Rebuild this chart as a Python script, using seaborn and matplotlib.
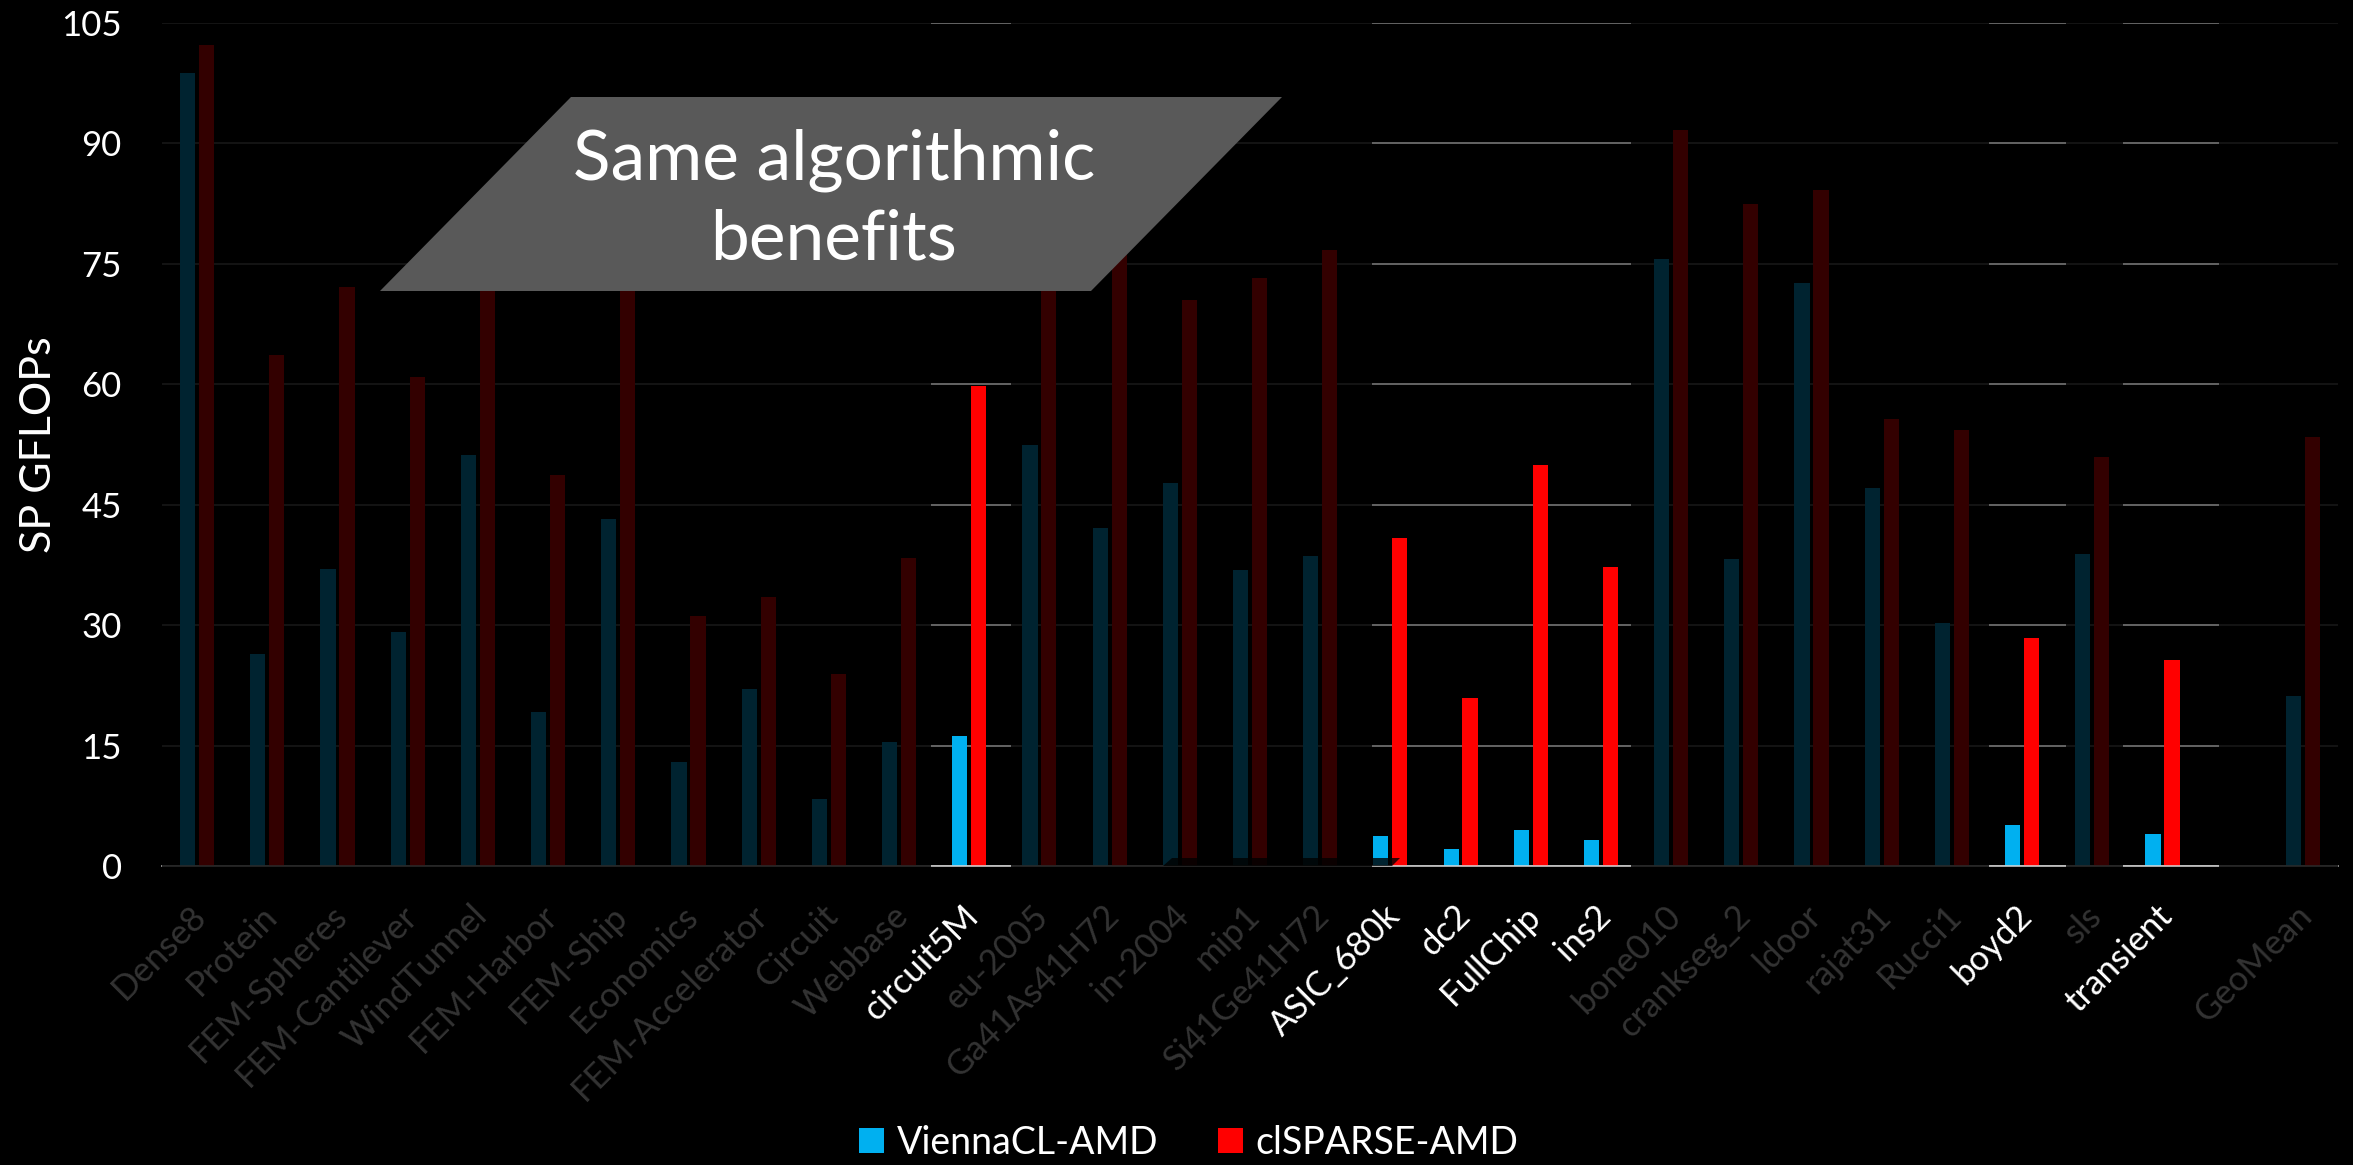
import matplotlib
matplotlib.use("Agg")
import matplotlib.pyplot as plt
from matplotlib.patches import Polygon, Rectangle
from matplotlib.transforms import blended_transform_factory, ScaledTranslation
import pandas as pd
import seaborn as sns

# ---------------------------------------------------------------- data
benchmarks = [
    "Dense8", "Protein", "FEM-Spheres", "FEM-Cantilever", "WindTunnel",
    "FEM-Harbor", "FEM-Ship", "Economics", "FEM-Accelerator", "Circuit",
    "Webbase", "circuit5M", "eu-2005", "Ga41As41H72", "in-2004", "mip1",
    "Si41Ge41H72", "ASIC_680k", "dc2", "FullChip", "ins2", "bone010",
    "crankseg_2", "ldoor", "rajat31", "Rucci1", "boyd2", "sls", "transient",
    "GeoMean",
]
viennacl_amd = [
    98.8, 26.4, 37.0, 29.2, 51.2, 19.2, 43.2, 13.0, 22.0, 8.3,
    15.5, 16.2, 52.4, 42.1, 47.7, 36.9, 38.6, 3.7, 2.1, 4.5,
    3.2, 75.6, 38.3, 72.6, 47.1, 30.3, 5.1, 38.8, 4.0, 21.2,
]
clsparse_amd = [
    102.3, 63.6, 72.1, 60.9, 78.0, 48.7, 76.0, 31.1, 33.5, 23.9,
    38.4, 59.8, 74.0, 76.4, 70.5, 73.2, 76.7, 40.9, 20.9, 49.9,
    37.3, 91.7, 82.4, 84.2, 55.7, 54.3, 28.4, 50.9, 25.7, 53.4,
]
series_names = ["ViennaCL-AMD", "clSPARSE-AMD"]
highlighted = ["circuit5M", "ASIC_680k", "dc2", "FullChip", "ins2", "boyd2", "transient"]
y_ticks = [0, 15, 30, 45, 60, 75, 90, 105]
y_title = "SP GFLOPs"
callout_text = "Same algorithmic\nbenefits"

# GeoMean is set one empty slot apart from the matrices
slot_order = benchmarks[:-1] + [" "] + benchmarks[-1:]

df = pd.DataFrame({
    "benchmark": benchmarks * 2,
    "gflops": viennacl_amd + clsparse_amd,
    "library": [series_names[0]] * len(benchmarks) + [series_names[1]] * len(benchmarks),
})

# ---------------------------------------------------------------- style
sns.set_theme(style="dark")
plt.rcParams["font.family"] = ["Lato", "DejaVu Sans"]
plt.rcParams["text.color"] = "white"

W, H = 2353, 1165
fig = plt.figure(figsize=(W / 100, H / 100), dpi=100, facecolor="black")


def fx(px):
    return px / W


def fy(py):
    return 1 - py / H


ax = fig.add_axes([fx(162), fy(866), fx(2338 - 162), (866 - 23) / H])
ax.set_facecolor("black")

sns.barplot(
    data=df, x="benchmark", y="gflops", hue="library",
    order=slot_order, hue_order=series_names,
    palette=["#00B0F0", "#FF0000"], saturation=1,
    width=0.54, gap=0.2, errorbar=None, ax=ax, zorder=2,
    linewidth=0, edgecolor="none",
)

ax.set_xlim(-0.5, len(slot_order) - 0.5)
ax.set_ylim(0, 105)
ax.set_yticks(y_ticks)
ax.set_yticklabels([str(t) for t in y_ticks])
ax.yaxis.grid(True, color="#7F7F7F", linewidth=1.1)
ax.xaxis.grid(False)
ax.set_axisbelow(True)
for side in ("left", "right", "top"):
    ax.spines[side].set_visible(False)
ax.spines["bottom"].set_color("#D9D9D9")
ax.spines["bottom"].set_linewidth(1.1)
ax.spines["bottom"].set_zorder(3)

ax.tick_params(axis="y", length=0, pad=29, labelsize=25, labelcolor="white")
ax.tick_params(axis="x", length=0, pad=24, labelsize=25)
ax.set_xticks(range(len(slot_order)))
ax.set_xticklabels(slot_order, rotation=45, ha="right", va="top",
                   rotation_mode="anchor")
nudge = ScaledTranslation(-7 / 100, 0, fig.dpi_scale_trans)
for lbl in ax.get_xticklabels():
    lbl.set_color("white" if lbl.get_text() in highlighted else "#333333")
    lbl.set_transform(lbl.get_transform() + nudge)

ax.set_xlabel("")
ax.set_ylabel(y_title, color="white", fontsize=31)
ax.yaxis.set_label_coords(-0.048, 0.50)

# dimming veil over everything but the highlighted columns
lit_spans = [(10.46, 11.59), (16.74, 20.43), (25.53, 26.63), (27.44, 28.81)]
edges = [-0.5]
for lo, hi in lit_spans:
    edges += [lo, hi]
edges.append(len(slot_order) - 0.5)
veil_tf = blended_transform_factory(ax.transData, ax.transAxes)
for x0, x1 in zip(edges[0::2], edges[1::2]):
    ax.add_patch(Rectangle((x0, -0.006), x1 - x0, 1.012, transform=veil_tf,
                           facecolor="black", edgecolor="none", alpha=0.8,
                           zorder=5, clip_on=False))

# legend below the category labels
handles, labels = ax.get_legend_handles_labels()
ax.legend(handles, labels, loc="center", ncol=2, frameon=False,
          bbox_to_anchor=(fx(1189), fy(1143)), bbox_transform=fig.transFigure,
          fontsize=27, labelcolor="white", handlelength=0.65, handleheight=0.65,
          handletextpad=0.35, columnspacing=1.6)

# small dark sliver resting on the baseline
fig.add_artist(Polygon(
    [(fx(1163), fy(866)), (fx(1172), fy(858)), (fx(1400), fy(858)), (fx(1392), fy(866))],
    closed=True, transform=fig.transFigure, facecolor="black", edgecolor="none",
    alpha=0.8, zorder=10))

# grey callout
fig.add_artist(Polygon(
    [(fx(571), fy(97)), (fx(1282), fy(97)), (fx(1091), fy(291)), (fx(380), fy(291))],
    closed=True, transform=fig.transFigure, facecolor="#595959", edgecolor="none",
    zorder=10))
fig.text(fx(834), fy(200), callout_text, ha="center", va="center", fontsize=50,
         color="white", linespacing=1.33, zorder=11)

fig.savefig("out.png", dpi=100, facecolor="black")
